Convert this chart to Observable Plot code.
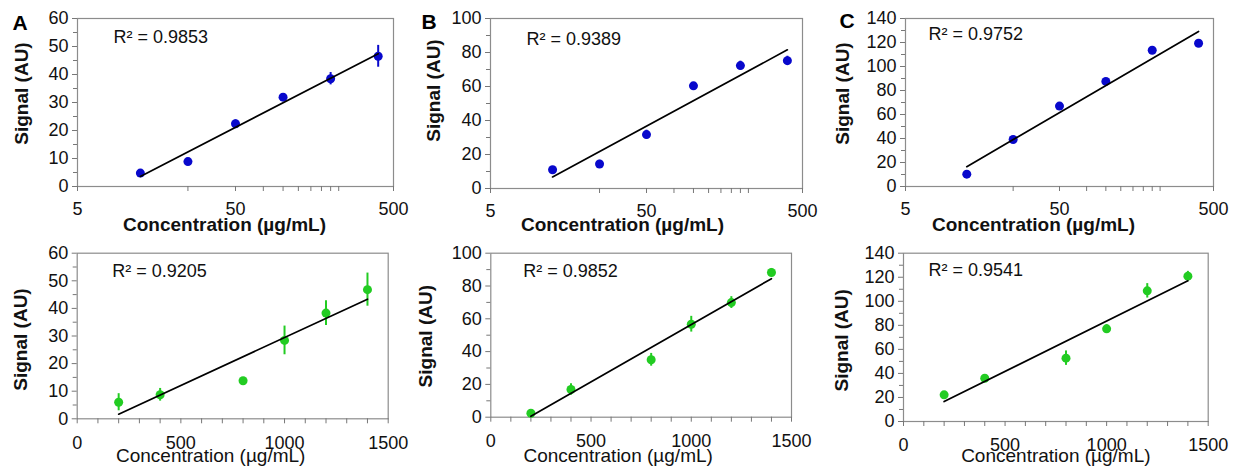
<!DOCTYPE html>
<html><head><meta charset="utf-8">
<script src="https://cdn.jsdelivr.net/npm/d3@7"></script>
<script src="https://cdn.jsdelivr.net/npm/@observablehq/plot@0.6"></script>
<style>
html,body{margin:0;padding:0;background:#fff;}
#chart{position:relative;width:1233px;height:467px;overflow:hidden;background:#fff;}
#chart svg{position:absolute;}
</style></head><body><div id="chart"></div>
<script>
// ---------- data ----------
const concLog = [12.5, 25, 50, 100, 200, 400];
const concLin = [200, 400, 800, 1000, 1200, 1400];

const sigTopA = [4.8, 8.9, 22.4, 31.9, 38.5, 46.5];
const errTopA = [0.8, 0.8, 1.4, 0.8, 2.2, 3.9];
const sigTopB = [11.0, 14.4, 31.7, 60.4, 72.3, 75.2];
const errTopB = [1.2, 2.2, 2.6, 1.2, 2.6, 2.6];
const sigTopC = [10.3, 39.2, 67.0, 87.6, 113.5, 119.4];
const errTopC = [1.0, 1.5, 1.5, 1.5, 1.5, 1.5];

const sigBotA = [6.0, 8.7, 13.8, 28.4, 38.3, 46.8];
const errBotA = [3.1, 2.3, 0.6, 5.2, 4.5, 6.0];
const sigBotB = [2.4, 16.9, 35.0, 56.7, 69.9, 88.2];
const errBotB = [1.5, 3.5, 3.9, 4.8, 3.6, 2.5];
const sigBotC = [22.2, 36.0, 52.7, 77.1, 108.7, 120.9];
const errBotC = [2.5, 2.0, 6.0, 3.5, 6.0, 4.0];

const r2Top = ["R² = 0.9853", "R² = 0.9389", "R² = 0.9752"];
const r2Bot = ["R² = 0.9205", "R² = 0.9852", "R² = 0.9541"];
const letters = ["A", "B", "C"];
const xTitle = "Concentration (µg/mL)";
const yTitle = "Signal (AU)";

const logTicks = [5, 50, 500];
const logMinor = [25, 75, 100, 125, 150, 175, 200, 225];
const linTicks = [0, 500, 1000, 1500];
const linMinor = [100, 200, 300, 400, 600, 700, 800, 900, 1100, 1200, 1300, 1400];

const yTicksA = [0, 10, 20, 30, 40, 50, 60];
const yMinorA = [5, 15, 25, 35, 45, 55];
const yTicksB = [0, 20, 40, 60, 80, 100];
const yMinorB = [10, 30, 50, 70, 90];
const yTicksC = [0, 20, 40, 60, 80, 100, 120, 140];
const yMinorC = [10, 30, 50, 70, 90, 110, 130];

const blue = "#0808cc";
const green = "#22cc22";
const FONT = "'Liberation Sans', Arial, Helvetica, sans-serif";

// ---------- panel builder ----------
function panel(c) {
  const data = c.xs.map((x, i) => ({x, y: c.ys[i], e: c.es[i]}));
  const tx = c.log ? (v) => Math.log10(v) : (v) => v;
  const X = data.map(d => tx(d.x)), Y = data.map(d => d.y);
  const mx = d3.mean(X), my = d3.mean(Y);
  const slope = d3.sum(X, (x, i) => (x - mx) * (Y[i] - my)) / d3.sum(X, x => (x - mx) ** 2);
  const fit = d3.extent(c.xs).map(x => ({x, y: my + slope * (tx(x) - mx)}));

  const svg = Plot.plot({
    width: c.w, height: c.h,
    marginLeft: c.mL, marginRight: c.mR, marginTop: c.mT, marginBottom: c.mB,
    x: c.log ? {type: "log", domain: [5, 500]} : {type: "linear", domain: [0, 1500]},
    y: {domain: [0, c.ymax]},
    style: {fontFamily: FONT, color: "#000", background: "transparent", overflow: "visible"},
    marks: [
      Plot.frame({stroke: "#8c8c8c", strokeWidth: 1.2}),
      Plot.axisY({ticks: c.yTicks, tickSize: 5, tickPadding: 4, label: null, stroke: "#777", fill: "#111", fontSize: 18, tickFormat: d => String(d)}),
      Plot.axisY({ticks: c.yMinor, tickSize: 4, label: null, stroke: "#777", tickFormat: () => ""}),
      Plot.axisX({ticks: c.log ? logTicks : linTicks, tickSize: 5, tickPadding: c.log ? 11 : 12, label: null, stroke: "#777", fill: "#111", fontSize: 18, tickFormat: d => String(d)}),
      Plot.axisX({ticks: c.log ? logMinor : linMinor, tickSize: 5, label: null, stroke: "#777", tickFormat: () => ""}),
      Plot.ruleX(data, {x: "x", y1: d => d.y - d.e, y2: d => d.y + d.e, stroke: c.color, strokeWidth: 2}),
      Plot.dot(data, {x: "x", y: "y", r: 4.5, fill: c.color, stroke: "none"}),
      Plot.line(fit, {x: "x", y: "y", stroke: "#000", strokeWidth: 1.7}),
      Plot.text([c.r2], {text: d => d, frameAnchor: "top-left", textAnchor: "start", lineAnchor: "middle", dx: c.r2dx, dy: c.r2dy, fontSize: 18, fill: "#111"}),
      Plot.text([xTitle], {text: d => d, frameAnchor: "bottom", textAnchor: "middle", lineAnchor: "middle", dx: c.xtdx, dy: c.xtdy, fontSize: 19, fontWeight: c.log ? "bold" : "normal", fill: "#111"}),
      Plot.text([yTitle], {text: d => d, frameAnchor: "left", textAnchor: "middle", lineAnchor: "middle", rotate: -90, dx: c.ytdx, dy: c.ytdy, fontSize: 19, fontWeight: "bold", fill: "#111"}),
      ...(c.letter ? [Plot.text([c.letter], {text: d => d, frameAnchor: "top-left", textAnchor: "middle", lineAnchor: "middle", dx: c.ldx, dy: c.ldy, fontSize: 21, fontWeight: "bold", fill: "#000"})] : [])
    ]
  });
  svg.style.left = c.left + "px";
  svg.style.top = c.top + "px";
  document.getElementById("chart").appendChild(svg);
}

// ---------- layout ----------
const chart = [
  {left: 0, top: 0, w: 411, h: 233, mL: 77, mR: 18, mT: 18, mB: 47, log: true, xs: concLog, ys: sigTopA, es: errTopA, ymax: 60, yTicks: yTicksA, yMinor: yMinorA, color: blue, r2: r2Top[0], r2dx: 36, r2dy: 19, xtdx: -11, xtdy: 38, ytdx: -56, ytdy: -9, letter: letters[0], ldx: -57.5, ldy: 4.5},
  {left: 411, top: 0, w: 411, h: 233, mL: 79, mR: 20, mT: 18, mB: 45, log: true, xs: concLog, ys: sigTopB, es: errTopB, ymax: 100, yTicks: yTicksB, yMinor: yMinorB, color: blue, r2: r2Top[1], r2dx: 36, r2dy: 21, xtdx: -24, xtdy: 36, ytdx: -57, ytdy: -13, letter: letters[1], ldx: -61.5, ldy: 3.5},
  {left: 822, top: 0, w: 411, h: 233, mL: 83, mR: 20, mT: 18, mB: 47, log: true, xs: concLog, ys: sigTopC, es: errTopC, ymax: 140, yTicks: yTicksC, yMinor: yMinorC, color: blue, r2: r2Top[2], r2dx: 23, r2dy: 16, xtdx: -26, xtdy: 38, ytdx: -63, ytdy: -9, letter: letters[2], ldx: -58.5, ldy: 2.5},
  {left: 0, top: 233, w: 411, h: 234, mL: 76.7, mR: 23.3, mT: 19.7, mB: 48.7, log: false, xs: concLin, ys: sigBotA, es: errBotA, ymax: 60, yTicks: yTicksA, yMinor: yMinorA, color: green, r2: r2Bot[0], r2dx: 35, r2dy: 18, xtdx: -22, xtdy: 37.5, ytdx: -56, ytdy: 3.5},
  {left: 411, top: 233, w: 411, h: 234, mL: 79.3, mR: 31, mT: 19.7, mB: 50.3, log: false, xs: concLin, ys: sigBotB, es: errBotB, ymax: 100, yTicks: yTicksB, yMinor: yMinorB, color: green, r2: r2Bot[1], r2dx: 32.5, r2dy: 18, xtdx: -23, xtdy: 39, ytdx: -65, ytdy: 1},
  {left: 822, top: 233, w: 411, h: 234, mL: 81, mR: 25.3, mT: 19.7, mB: 46, log: false, xs: concLin, ys: sigBotC, es: errBotC, ymax: 140, yTicks: yTicksC, yMinor: yMinorC, color: green, r2: r2Bot[2], r2dx: 25, r2dy: 17, xtdx: 0, xtdy: 34.5, ytdx: -62, ytdy: 3}
];
chart.forEach(panel);
</script>
</body></html>
